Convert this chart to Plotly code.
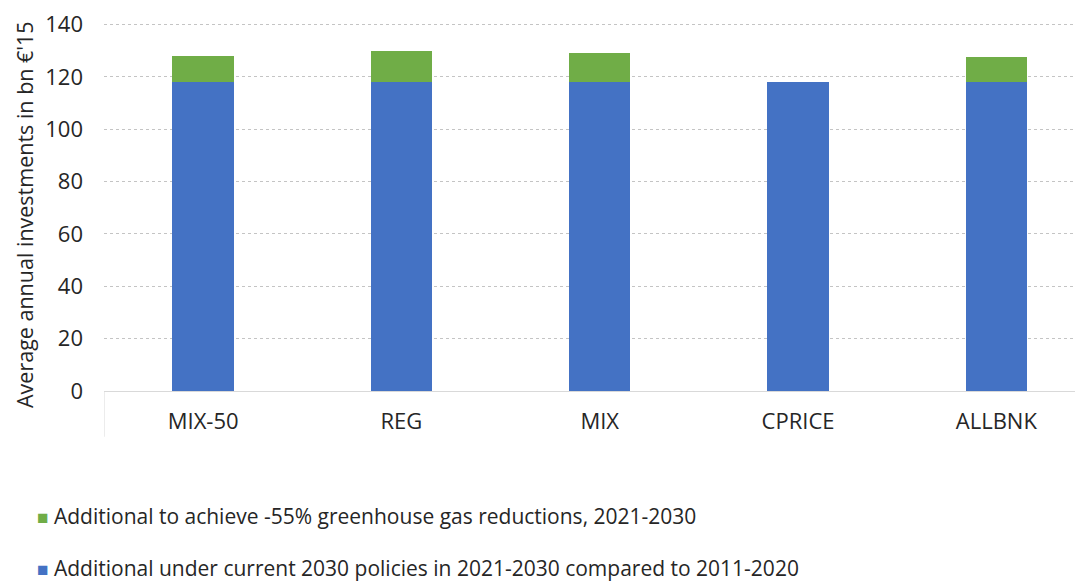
import plotly.graph_objects as go

categories = ["MIX-50", "REG", "MIX", "CPRICE", "ALLBNK"]
current_policies = [118, 118, 118, 118, 118]
additional_55 = [10.2, 12.1, 11.2, 0, 9.8]
y_ticks = [0, 20, 40, 60, 80, 100, 120, 140]

name_current = "Additional under current 2030 policies in 2021-2030 compared to 2011-2020"
name_add = "Additional to achieve -55% greenhouse gas reductions, 2021-2030"
y_title = "Average annual investments in bn €'15"

BLUE = "#4472C4"
GREEN = "#70AD47"
FONT = "Open Sans"
TXT = "#262626"

fig = go.Figure()
fig.add_trace(go.Bar(x=categories, y=current_policies, name=name_current,
                     marker=dict(color=BLUE, line=dict(width=0)), width=0.31))
fig.add_trace(go.Bar(x=categories, y=additional_55, name=name_add,
                     marker=dict(color=GREEN, line=dict(width=0)), width=0.31))

# page body has an 8px margin, so the figure is sized/shifted to compensate
fig.update_layout(
    barmode="stack",
    width=1075, height=573,
    margin=dict(l=96, r=0, t=14, b=190, autoexpand=False),
    paper_bgcolor="white", plot_bgcolor="white",
    font=dict(family=FONT, size=22, color=TXT),
    showlegend=False,
    xaxis=dict(range=[-0.5, 4.437], showgrid=False, showline=True,
               linecolor="#D9D9D9", linewidth=1, ticks="", ticklabelstandoff=11,
               tickfont=dict(size=22, family=FONT, color=TXT)),
    yaxis=dict(range=[0, 141], tickvals=y_ticks, showgrid=True,
               gridcolor="#C4C4C4", griddash="dot", gridwidth=1,
               zeroline=False, showline=False, ticks="", ticklabelstandoff=20,
               ticklabeloverflow="allow",
               tickfont=dict(size=22, family=FONT, color=TXT)),
)

# y-axis title (placed to match the reference's vertical centring)
fig.add_annotation(xref="paper", yref="paper", x=-0.0807, y=0.4797,
                   xanchor="center", yanchor="middle", showarrow=False, textangle=-90,
                   text=y_title, font=dict(size=21.5, family=FONT, color=TXT))

# Legend drawn as text entries (Excel-style, stacked below the chart)
legend_items = [(name_add, GREEN, -0.3388), (name_current, BLUE, -0.4805)]
for name, color, ypos in legend_items:
    fig.add_annotation(xref="paper", yref="paper", x=-0.0706, y=ypos,
                       xanchor="left", yanchor="middle", showarrow=False,
                       text=f'<span style="color:{color};font-size:19px">■</span> {name}',
                       font=dict(size=21, family=FONT, color=TXT))

# Excel-style category axis boundary tick (left edge, extending below axis)
fig.add_shape(type="line", xref="x", yref="paper", x0=-0.5, x1=-0.5, y0=0, y1=-0.124,
              line=dict(color="#D9D9D9", width=1))

fig.write_html("out.html")
